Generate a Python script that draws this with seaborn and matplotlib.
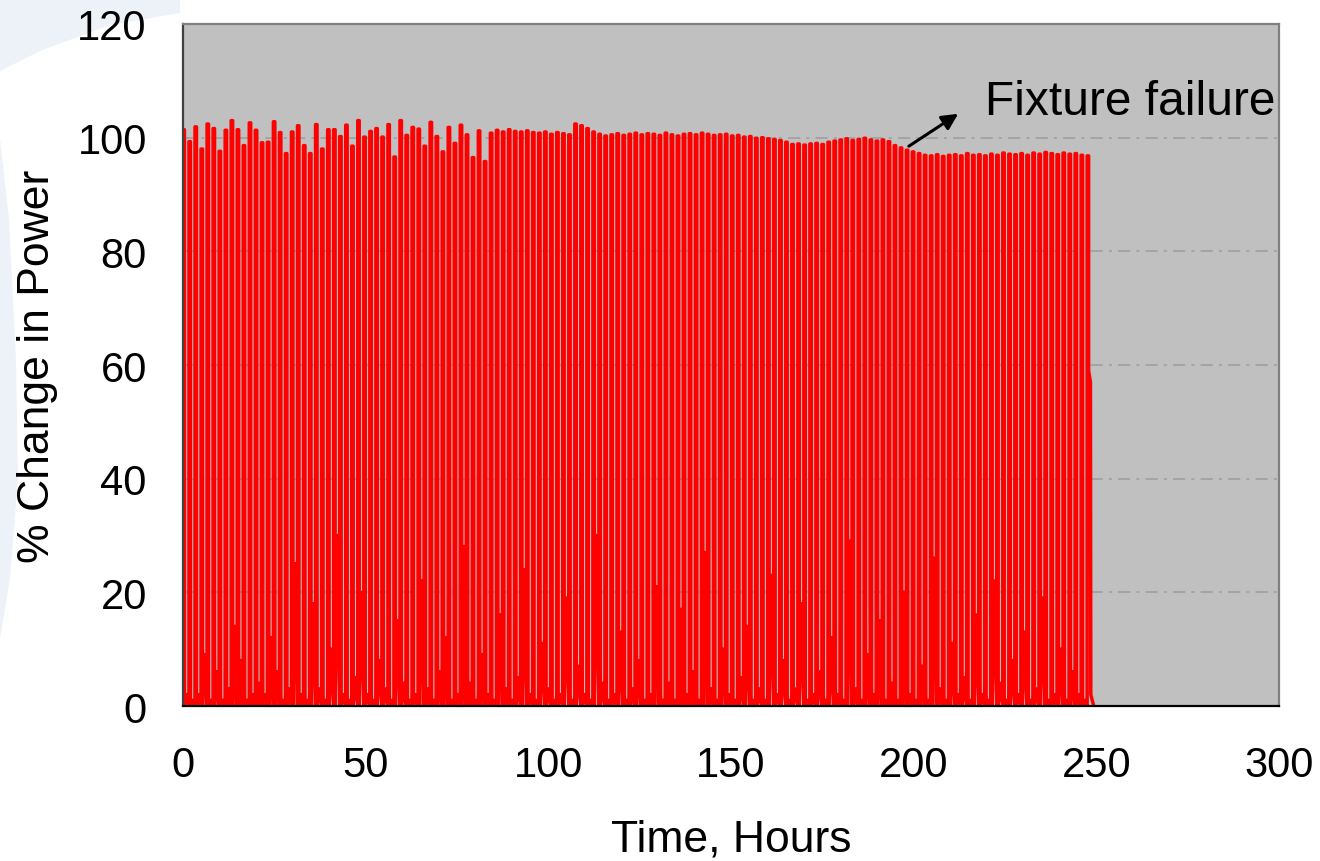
"""
Power cycling test: % change in power vs time, until fixture failure
"""

import numpy as np
import pandas as pd
import matplotlib
matplotlib.use("Agg")
import matplotlib.pyplot as plt
from matplotlib.patches import Polygon
import seaborn as sns

# ── data ─────────────────────────────────────────────────────
PERIOD_H = 1.65      # one on/off cycle, hours
ON_H = 0.4           # flat top of each cycle, hours
START_PCT = 59

# peak of every cycle, % change in power
peak_pct = [
    101.4, 99.3, 101.9, 98.0, 102.4, 101.6, 97.6, 101.3, 103.0, 101.4,
    98.6, 102.6, 101.3, 99.1, 99.2, 102.8, 100.9, 97.2, 101.0, 102.1,
    98.6, 97.2, 102.3, 98.0, 101.4, 101.4, 100.2, 102.2, 98.5, 103.0,
    100.1, 101.1, 101.6, 100.1, 102.3, 96.6, 103.0, 100.4, 101.8,
    101.5, 98.5, 102.7, 100.2, 97.5, 101.8, 99.0, 102.2, 100.5, 96.5,
    101.2, 95.8, 100.8, 101.3, 101.0, 101.4, 101.1, 101.0, 101.2, 100.9,
    100.8, 101.0, 100.6, 100.9, 100.7, 100.5,
    102.4, 102.1, 101.6,
    101.0, 100.6, 100.3, 100.5, 100.7, 100.4, 100.6, 100.8, 100.5, 100.7,
    100.6, 100.4, 100.8, 100.5, 100.3, 100.6, 100.7, 100.5, 100.8, 100.6,
    100.4, 100.5, 100.6,
    100.3, 100.4, 100.1, 100.2, 99.9, 100.0, 99.8, 99.7, 99.5, 99.2,
    98.8, 98.9, 98.7, 98.9, 99.0, 98.8,
    99.2, 99.4, 99.6, 99.8, 99.5, 99.7, 99.9, 99.6, 99.4, 99.6, 99.3,
    98.6, 98.2, 97.8, 97.5, 97.2,
    96.9, 96.8, 97.0, 96.7, 96.9, 97.0, 96.8, 97.2, 96.9, 97.0, 96.8, 97.1, 96.9,
    97.3, 97.1, 97.0, 97.2, 96.9, 97.3, 97.1, 97.4, 97.2, 97.0, 97.3, 97.1,
    97.2, 96.9, 96.8,
]

# lowest reading between two cycles (where the off gap closes)
gap_floor_pct = [
    2, 1, 2, 9, 1, 6, 1, 3, 14, 8,
    1, 2, 4, 2, 12, 6, 1, 3, 25, 2,
    1, 18, 3, 1, 10, 30, 2, 1, 5, 20,
    2, 1, 8, 3, 1, 15, 4, 1, 2, 22,
    3, 1, 6, 12, 1, 2, 28, 4, 1, 9,
    2, 1, 16, 3, 1, 5, 24, 2, 1, 11,
    3, 1, 2, 19, 1, 7, 2, 1, 30, 4,
    1, 2, 13, 1, 3, 8, 1, 2, 21, 1,
    4, 1, 17, 2, 6, 1, 27, 3, 1, 10,
    2, 1, 5, 14, 1, 3, 1, 23, 2, 8,
    1, 3, 18, 1, 2, 6, 1, 12, 2, 1,
    29, 3, 1, 9, 2, 15, 1, 4, 1, 20,
    2, 1, 7, 1, 26, 3, 1, 11, 2, 5,
    1, 16, 2, 1, 22, 4, 1, 8, 2, 13,
    1, 3, 19, 1, 2, 10, 1, 6, 2, 1,
]

# last readings after the final cycle (hours after last flat top)
tail_hours = [0.0, 0.5, 0.6, 1.4]
tail_pct = [59, 57, 2, 0]

X_TICKS = [0, 50, 100, 150, 200, 250, 300]
Y_TICKS = [0, 20, 40, 60, 80, 100, 120]

sns.set_style("white")
plt.rcParams.update({
    "font.family": ["Liberation Sans", "DejaVu Sans"],
    "text.color": "black", "axes.labelcolor": "black",
    "xtick.color": "black", "ytick.color": "black",
})

W, H = 1320, 862


def build_trace():
    hours, pct = [0.0], [START_PCT]
    for i, p in enumerate(peak_pct):
        t = i * PERIOD_H
        hours += [t, t + ON_H]
        pct += [p, p]
        if i < len(gap_floor_pct):
            hours += [t + ON_H, t + (ON_H + PERIOD_H) / 2, t + PERIOD_H]
            pct += [0, gap_floor_pct[i], 0]
    t_end = (len(peak_pct) - 1) * PERIOD_H + ON_H
    hours += [t_end + d for d in tail_hours]
    pct += tail_pct
    return pd.DataFrame({"hours": hours, "pct": pct})


def add_backdrop(fig):
    """faint slide swoosh behind everything (pixel coords, y from top)"""
    shapes = [
        [(0, 0), (180, 0), (180, 14), (110, 26), (40, 52), (0, 72)],
        [(0, 140), (9, 220), (16, 360), (18, 480), (10, 580), (0, 640)],
    ]
    for pts in shapes:
        xy = [(x / W, 1 - y / H) for x, y in pts]
        fig.patches.append(Polygon(xy, closed=True, transform=fig.transFigure,
                                   facecolor="#edf2f9", edgecolor="none", zorder=-5))


def main():
    df = build_trace()

    fig = plt.figure(figsize=(13.2, 8.62), dpi=100)
    add_backdrop(fig)
    ax = fig.add_axes([0.1386, 0.1798, 0.8303, 0.7912])
    ax.set_facecolor("#c0c0c0")

    sns.lineplot(data=df, x="hours", y="pct", sort=False, estimator=None,
                 color="#ff0000", linewidth=2.5, ax=ax)

    ax.set_xlim(0, 300)
    ax.set_ylim(0, 120)
    ax.set_xticks(X_TICKS)
    ax.set_yticks(Y_TICKS)
    ax.grid(axis="y", color="#9c9c9c", linestyle=(0, (8, 4, 2, 4)), linewidth=1.1)
    ax.grid(axis="x", visible=False)
    ax.set_axisbelow(True)

    for side in ["top", "right"]:
        ax.spines[side].set_color("#808080")
        ax.spines[side].set_linewidth(1.6)
    ax.spines["left"].set_color("#404040")
    ax.spines["bottom"].set_color("#000000")
    ax.spines["left"].set_linewidth(1.6)
    ax.spines["bottom"].set_linewidth(1.6)

    ax.tick_params(axis="both", direction="out", length=9, width=1.3,
                   labelsize=30, colors="black")
    ax.tick_params(axis="x", pad=19)
    ax.tick_params(axis="y", pad=17)
    ax.set_xlabel("Time, Hours", fontsize=32, labelpad=24)
    ax.set_ylabel("% Change in Power", fontsize=32, labelpad=14)

    ax.annotate("", xy=(212.2, 104.2), xytext=(198.7, 98.5),
                arrowprops=dict(arrowstyle="-|>", color="black", lw=2.2,
                                mutation_scale=24, shrinkA=0, shrinkB=0))
    ax.text(219.5, 106.3, "Fixture failure", fontsize=34.5, ha="left", va="center")

    fig.savefig("out.png", dpi=100)
    plt.close(fig)


if __name__ == "__main__":
    main()
